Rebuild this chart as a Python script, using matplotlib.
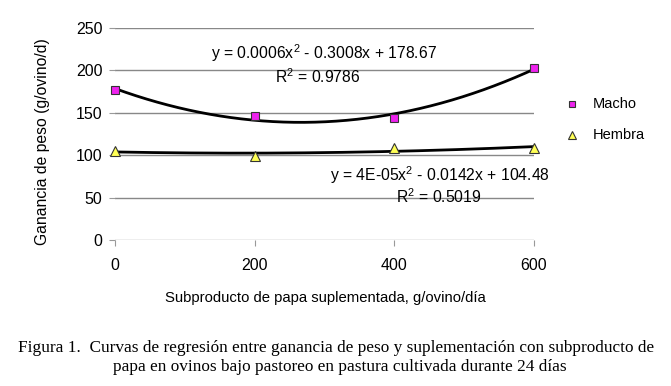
import numpy as np
import matplotlib
matplotlib.use("Agg")
import matplotlib.pyplot as plt

x_vals = [0, 200, 400, 600]
macho = [177, 146, 144, 203]
hembra = [105, 99, 108, 109]
series_names = ["Macho", "Hembra"]
eq_macho = "y = 0.0006x$^2$ - 0.3008x + 178.67"
r2_macho = "R$^2$ = 0.9786"
eq_hembra = "y = 4E-05x$^2$ - 0.0142x + 104.48"
r2_hembra = "R$^2$ = 0.5019"
xlabel = "Subproducto de papa suplementada, g/ovino/día"
ylabel = "Ganancia de peso (g/ovino/d)"
caption1 = "Figura 1.  Curvas de regresión entre ganancia de peso y suplementación con subproducto de"
caption2 = "papa en ovinos bajo pastoreo en pastura cultivada durante 24 días"

plt.rcParams['font.family'] = ['Liberation Sans', 'DejaVu Sans']
plt.rcParams['mathtext.fontset'] = 'custom'
plt.rcParams['mathtext.rm'] = 'Liberation Sans'

fig = plt.figure(figsize=(6.71, 3.86), dpi=100)
ax = fig.add_axes([115/671, 1-240/386, (534-115)/671, (240-28)/386])

xs = np.linspace(0, 600, 200)
for ys in (macho, hembra):
    c = np.polyfit(x_vals, ys, 2)
    ax.plot(xs, np.polyval(c, xs), color='black', lw=2, zorder=3)

ax.plot(x_vals, macho, ls='none', marker='s', ms=6, mfc='#ee22ee', mec='#333333', mew=0.8, zorder=4, clip_on=False)
ax.plot(x_vals, hembra, ls='none', marker='^', ms=7, mfc='#ffff55', mec='#333333', mew=0.8, zorder=4, clip_on=False)

ax.set_xlim(0, 600)
ax.set_ylim(0, 250)
ax.set_xticks(x_vals)
ax.set_yticks([0, 50, 100, 150, 200, 250])
for v in [50, 100, 150, 200, 250]:
    ax.axhline(v, color='#888888', lw=1, zorder=1)
ax.axhline(0, color='#aaaaaa', lw=1, zorder=1)
for s in ax.spines.values():
    s.set_visible(False)
ax.tick_params(axis='both', labelsize=11.5, color='#999999', length=4, width=0.8)
ax.tick_params(axis='x', pad=9)
ax.tick_params(axis='y', pad=5)
ax.set_xticklabels([str(v) for v in x_vals])
ax.set_yticklabels([str(v) for v in [0, 50, 100, 150, 200, 250]])
ax.patch.set_alpha(0)
fig.text(43/671, 1-142/386, ylabel, rotation=90, ha='center', va='center', fontsize=11.3)

ax.text(324/671, 1-53/386, eq_macho, transform=fig.transFigure, ha='center', va='center', fontsize=11.3)
ax.text(318/671, 1-77/386, r2_macho, transform=fig.transFigure, ha='center', va='center', fontsize=11.3)
ax.text(440/671, 1-175/386, eq_hembra, transform=fig.transFigure, ha='center', va='center', fontsize=11.3)
ax.text(439/671, 1-197/386, r2_hembra, transform=fig.transFigure, ha='center', va='center', fontsize=11.3)

# legend
fig.lines.append(plt.Line2D([572/671], [1-104/386], transform=fig.transFigure, marker='s', ms=5, mfc='#ee22ee', mec='#333333', mew=0.8, ls='none'))
fig.lines.append(plt.Line2D([572/671], [1-135/386], transform=fig.transFigure, marker='^', ms=5.5, mfc='#ffff55', mec='#333333', mew=0.8, ls='none'))
fig.text(593/671, 1-104/386, series_names[0], ha='left', va='center', fontsize=10.5)
fig.text(593/671, 1-135/386, series_names[1], ha='left', va='center', fontsize=10.5)

fig.text(325/671, 1-298/386, xlabel, ha='center', va='center', fontsize=10.7)
fig.text(18/671, 1-348/386, caption1, ha='left', va='center', fontsize=12.4, family=['Liberation Serif'])
fig.text(113/671, 1-367/386, caption2, ha='left', va='center', fontsize=12.4, family=['Liberation Serif'])

fig.savefig("out.png", dpi=100)
